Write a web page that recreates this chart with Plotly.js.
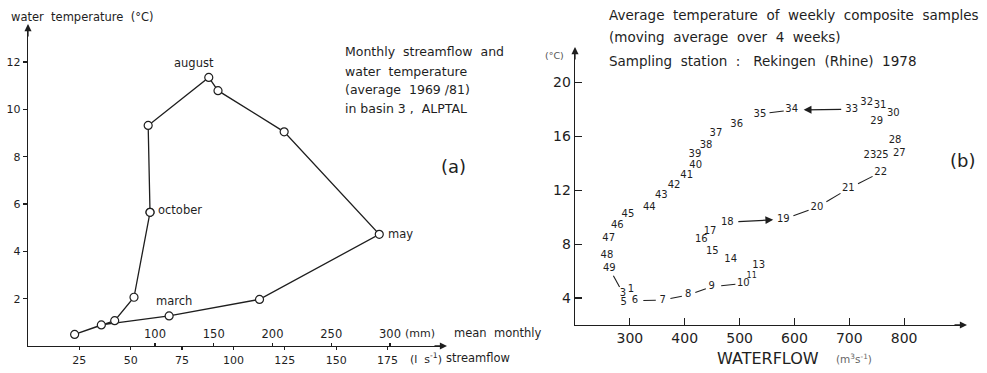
<!DOCTYPE html>
<html>
<head>
<meta charset="utf-8">
<script src="https://cdn.plot.ly/plotly-3.0.1.min.js"></script>
<style>html,body{margin:0;padding:0;background:#fff;}#chart{width:987px;height:373px;}</style>
</head>
<body>
<div id="chart"></div>
<script>
// ---- Panel (a): monthly streamflow vs water temperature, ALPTAL basin 3 ----
const monthsA   = ['oct','nov','dec','jan','feb','mar','apr','may','jun','jul','aug','sep','oct'];
const flowA     = [59.4, 51.6, 42.2, 22.7, 35.7, 68.7, 112.7, 171.0, 124.7, 92.5, 88.0, 58.5, 59.4]; // l s-1
const tempA     = [5.65, 2.06, 1.07, 0.49, 0.89, 1.27, 1.97, 4.72, 9.05, 10.79, 11.35, 9.32, 5.65]; // degC
const monthLabelsA = {oct:'october', mar:'march', may:'may', aug:'august'};
const ticksLs   = [25, 50, 75, 100, 125, 150, 175];
const ticksMm   = [100, 150, 200, 250, 300];
const ticksTa   = [2, 4, 6, 8, 10, 12];

// ---- Panel (b): weekly composite samples, Rekingen (Rhine) 1978 ----
const weeksB = [1, 3, 5, 6, 7, 8, 9, 10, 11, 13, 14, 15, 16, 17, 18, 19, 20, 21, 22, 23, 25, 27, 28, 29, 30, 31, 32, 33, 34, 35, 36, 37, 38, 39, 40, 41, 42, 43, 44, 45, 46, 47, 48, 49];
const flowB  = [302, 287.5, 288.8, 309.4, 359.9, 406.5, 449.2, 506.8, 522.1, 534.9, 483.8, 450.3, 430.2, 446.1, 477.6, 579.7, 641.1, 698.2, 757.2, 737.7, 760.2, 791.2, 783.3, 749.9, 780.2, 756.0, 731.7, 704.4, 595.0, 537.2, 494.7, 457.0, 438.8, 418.7, 420.0, 403.6, 380.5, 357.3, 335.4, 296.6, 277.1, 261.4, 258.3, 262.5];
const tempB  = [4.60, 4.35, 3.65, 3.80, 3.85, 4.23, 4.84, 5.09, 5.64, 6.38, 6.87, 7.44, 8.33, 8.96, 9.63, 9.84, 10.73, 12.11, 13.33, 14.54, 14.54, 14.71, 15.65, 17.08, 17.68, 18.30, 18.52, 18.00, 17.95, 17.65, 16.91, 16.24, 15.33, 14.66, 13.85, 13.08, 12.36, 11.57, 10.75, 10.18, 9.37, 8.45, 7.19, 6.21];
const ticksFlowB = [300, 400, 500, 600, 700, 800];
const ticksTb    = [4, 8, 12, 16, 20];
// connectors drawn between consecutive week labels (from week, to week)
const dashPairs  = [[49, 3], [6, 7], [7, 8], [8, 9], [9, 10], [19, 20], [20, 21], [21, 22], [35, 34]];
const arrowPairs = [[18, 19], [33, 34]];

const W = 987, H = 373;
const px = x => x / W, py = y => 1 - y / H;
const FONT = 'DejaVu Sans, Liberation Sans, sans-serif';
const INK = '#1e1e1e';

function wk(w){ const i = weeksB.indexOf(w); return [flowB[i], tempB[i]]; }

const dashX = [], dashY = [];
dashPairs.forEach(([a, b]) => {
  const [x0, y0] = wk(a), [x1, y1] = wk(b);
  dashX.push(x0 + 0.3*(x1-x0), x0 + 0.75*(x1-x0), null);
  dashY.push(y0 + 0.3*(y1-y0), y0 + 0.75*(y1-y0), null);
});

const traces = [
  { x: flowA, y: tempA, xaxis: 'x', yaxis: 'y', mode: 'lines+markers', type: 'scatter',
    line: {color: INK, width: 1.3},
    marker: {symbol: 'circle', size: 8, color: '#fff', line: {color: INK, width: 1.2}},
    hoverinfo: 'skip', showlegend: false, cliponaxis: false },
  { x: dashX, y: dashY, xaxis: 'x2', yaxis: 'y2', mode: 'lines', type: 'scatter',
    line: {color: INK, width: 1.1}, hoverinfo: 'skip', showlegend: false, connectgaps: false },
  { x: flowB, y: tempB, xaxis: 'x2', yaxis: 'y2', mode: 'text', type: 'scatter',
    text: weeksB.map(String), textposition: 'middle center',
    textfont: {family: FONT, size: weeksB.map(w => w === 11 ? 8 : 10), color: INK},
    hoverinfo: 'skip', showlegend: false, cliponaxis: false }
];

const annotations = [];
function txt(text, x, y, size, opts) {
  annotations.push(Object.assign({text, x: px(x), y: py(y), xref: 'paper', yref: 'paper',
    showarrow: false, xanchor: 'left', yanchor: 'middle',
    font: {family: FONT, size, color: INK}}, opts || {}));
}
function axisArrow(x, y, ax, ay) {
  annotations.push({x: px(x), y: py(y), xref: 'paper', yref: 'paper', text: '', showarrow: true,
    ax, ay, arrowhead: 2, arrowsize: 1.1, arrowwidth: 1.3, arrowcolor: INK});
}

// panel a texts
txt('water  temperature  (°C)', 9, 17, 11.5);
txt('Monthly  streamflow  and', 343, 52, 12.5);
txt('water  temperature', 343, 71, 12.5);
txt('(average  1969 /81)', 343, 90, 12.5);
txt('in basin 3 ,  ALPTAL', 343, 109, 12.5);
txt('(a)', 453, 166, 18, {xanchor: 'center'});
txt('(mm)', 403, 333, 11);
txt('mean  monthly', 452, 333, 11.5);
txt('(l  s<sup>-1</sup>)', 408, 358, 11);
txt('streamflow', 444, 358, 11.5);
// month labels anchored to data points
flowA.forEach((f, i) => {
  const m = monthsA[i];
  if (!monthLabelsA[m] || (m === monthsA[0] && i === monthsA.length - 1)) return;
  const base = {xref: 'x', yref: 'y', x: f, y: tempA[i], showarrow: false,
    text: monthLabelsA[m], font: {family: FONT, size: 11.5, color: INK}};
  if (m === 'aug') Object.assign(base, {xanchor: 'center', yanchor: 'bottom', xshift: -15, yshift: 5});
  if (m === 'oct') Object.assign(base, {xanchor: 'left', yanchor: 'middle', xshift: 6, yshift: 2});
  if (m === 'may') Object.assign(base, {xanchor: 'left', yanchor: 'middle', xshift: 7});
  if (m === 'mar') Object.assign(base, {xanchor: 'center', yanchor: 'bottom', xshift: 5, yshift: 6});
  annotations.push(base);
});

// panel b texts
txt('Average  temperature  of  weekly  composite  samples', 607, 15, 13.5);
txt('(moving  average  over  4  weeks)', 607, 37, 13.5);
txt('Sampling  station  :   Rekingen  (Rhine)  1978', 607, 61, 13.5);
txt('(°C)', 543, 56, 9.5, {font: {family: FONT, size: 9.5, color: '#555'}});
txt('(b)', 962, 160, 18, {xanchor: 'center'});
txt('WATERFLOW', 768, 358, 16, {xanchor: 'center'});
txt('(m<sup>3</sup>s<sup>-1</sup>)', 834, 358, 10.5, {font: {family: FONT, size: 10.5, color: '#666'}});

// arrows between week labels (data driven)
arrowPairs.forEach(([a, b]) => {
  const [x0, y0] = wk(a), [x1, y1] = wk(b);
  const s = a === 18 ? 0.17 : 0.15, e = a === 18 ? 0.82 : 0.8;
  annotations.push({xref: 'x2', yref: 'y2', axref: 'x2', ayref: 'y2',
    x: x0 + e*(x1-x0), y: y0 + e*(y1-y0), ax: x0 + s*(x1-x0), ay: y0 + s*(y1-y0),
    text: '', showarrow: true, arrowhead: 2, arrowsize: 1.3, arrowwidth: 1.2, arrowcolor: INK});
});

// axis arrows
axisArrow(28, 24, 0, 14);
axisArrow(447, 346, -14, 0);
axisArrow(575, 47, 0, 14);
axisArrow(967, 325, -14, 0);

const axisCommon = {showgrid: false, zeroline: false, showline: true, linecolor: INK, linewidth: 1.3,
  tickcolor: INK, tickwidth: 1.2, tickmode: 'array', fixedrange: true};

const layout = {
  width: W, height: H, margin: {l: 0, r: 0, t: 0, b: 0},
  paper_bgcolor: '#fff', plot_bgcolor: 'rgba(0,0,0,0)', showlegend: false,
  font: {family: FONT, color: INK},
  xaxis: Object.assign({}, axisCommon, {domain: [px(28), px(445)], range: [0, 203], anchor: 'y',
    tickvals: ticksLs, ticks: 'outside', ticklen: 3, tickfont: {size: 11, family: FONT, color: INK}}),
  xaxis3: Object.assign({}, axisCommon, {overlaying: 'x', anchor: 'free', position: py(346), side: 'top',
    range: [-8.1, 346.8], tickvals: ticksMm, ticks: 'outside', ticklen: 3, showline: false,
    tickfont: {size: 11.5, family: FONT, color: INK}}),
  yaxis: Object.assign({}, axisCommon, {domain: [py(346), py(27)], range: [0, 13.48], anchor: 'x',
    tickvals: ticksTa, ticks: 'outside', ticklen: 4, tickfont: {size: 11, family: FONT, color: INK}}),
  xaxis2: Object.assign({}, axisCommon, {domain: [px(575), px(965)], range: [200, 910.9], anchor: 'y2',
    tickvals: ticksFlowB, ticks: 'inside', ticklen: 7, tickfont: {size: 14, family: FONT, color: INK}}),
  yaxis2: Object.assign({}, axisCommon, {domain: [py(325), py(50)], range: [2, 22.4], anchor: 'x2',
    tickvals: ticksTb, ticks: 'inside', ticklen: 7, tickfont: {size: 14, family: FONT, color: INK}}),
  annotations
};

// invisible helper trace so the mm axis is drawn
traces.push({x: [0], y: [0], xaxis: 'x3', yaxis: 'y', mode: 'markers', marker: {opacity: 0},
  hoverinfo: 'skip', showlegend: false});

Plotly.newPlot('chart', traces, layout, {staticPlot: true, displayModeBar: false});
</script>
</body>
</html>
